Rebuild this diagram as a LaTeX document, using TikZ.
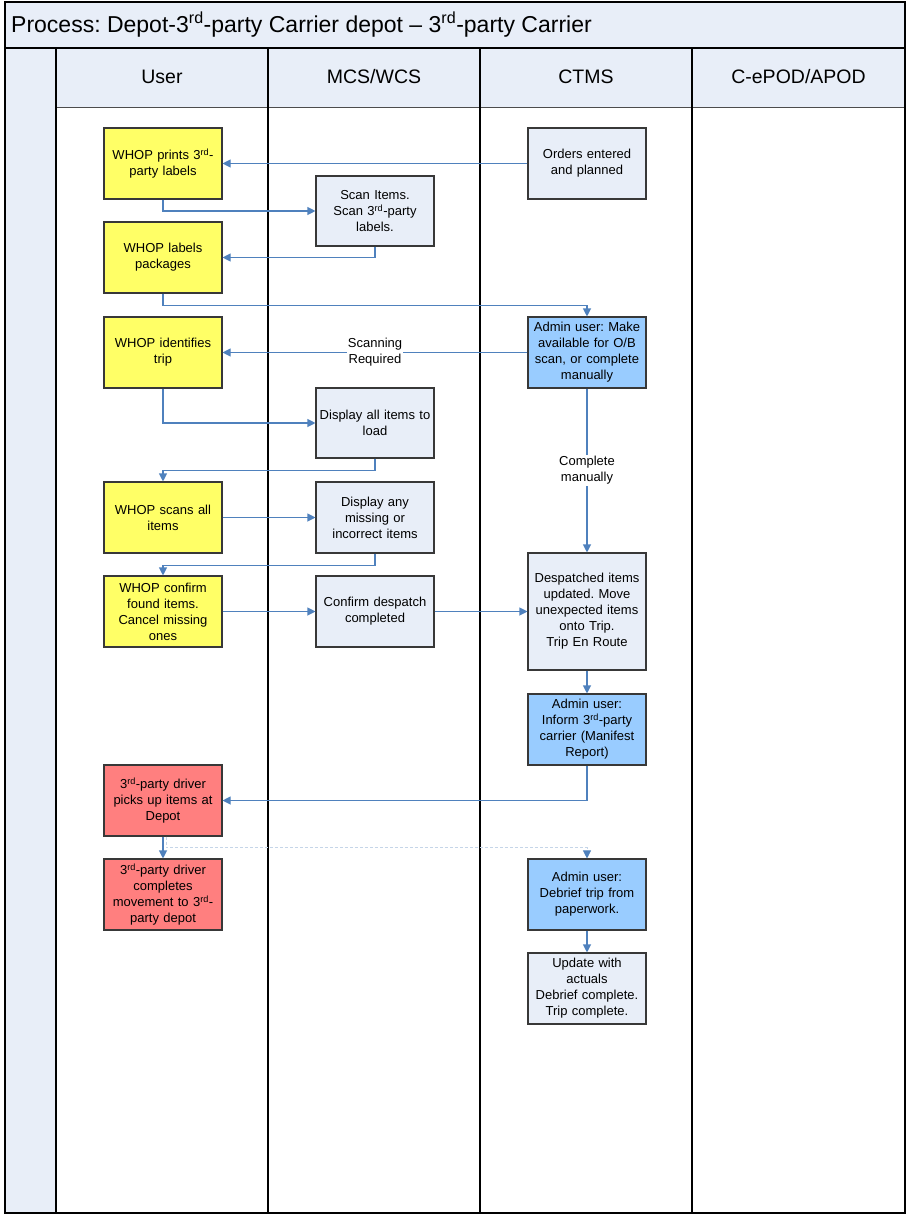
\documentclass[tikz,border=0pt]{standalone}
\usepackage{fontspec}
\setmainfont{Liberation Sans}
\usetikzlibrary{arrows.meta}
\definecolor{hdr}{HTML}{E8EEF8}
\definecolor{boxg}{HTML}{E8EEF8}
\definecolor{yel}{HTML}{FFFF66}
\definecolor{adm}{HTML}{99CCFF}
\definecolor{drv}{HTML}{FF7F7F}
\definecolor{con}{HTML}{4F81BD}
\definecolor{dashc}{HTML}{C5D5E8}
\frenchspacing
\begin{document}
\begin{tikzpicture}[x=1pt,y=-1pt,
  lane/.style={draw=black, line width=1.1pt},
  box/.style={draw=black!78, line width=1.1pt, minimum width=118pt, minimum height=71pt, text width=114pt, align=center, inner sep=2pt, font=\fontsize{13}{16}\selectfont},
  gbox/.style={box, fill=boxg},
  ybox/.style={box, fill=yel},
  abox/.style={box, fill=adm},
  rbox/.style={box, fill=drv},
  conn/.style={draw=con, line width=1.1pt, -{Triangle[width=8pt,length=8pt]}},
  dconn/.style={draw=dashc, line width=0.8pt, dash pattern=on 3pt off 2pt, -{Triangle[width=8pt,length=8pt,color=con]}},
  lbl/.style={fill=white, inner sep=1pt, align=center, font=\fontsize{13}{16}\selectfont},
  hdrtext/.style={font=\fontsize{19.5}{22}\selectfont}
]
\useasboundingbox (0,0) rectangle (906,1215);
% backgrounds
\fill[hdr] (5,2) rectangle (905,48);
\fill[hdr] (5,48) rectangle (56,1213);
\fill[hdr] (56,48) rectangle (905,107);
% lane lines
\draw[line width=0.6pt, black!70] (56,107) -- (905,107);
\draw[lane] (5,48) -- (905,48);
\draw[lane] (56,48) -- (56,1213);
\draw[lane] (268,48) -- (268,1213);
\draw[lane] (480,48) -- (480,1213);
\draw[lane] (692,48) -- (692,1213);
\draw[line width=1.6pt] (5,2) rectangle (905,1213);
% title and headers
\node[anchor=west, font=\fontsize{23}{26}\selectfont, inner sep=0pt] (title) at (11,25) {Process: Depot-3\textsuperscript{rd}-party Carrier depot – 3\textsuperscript{rd}-party Carrier};
\node[hdrtext] (hU) at (162,77) {User};
\node[hdrtext] (hM) at (374,77) {MCS/WCS};
\node[hdrtext] (hC) at (586,77) {CTMS};
\node[hdrtext] (hE) at (798.5,77) {C-ePOD/APOD};
% User lane
\node[ybox] (p1) at (163,163.5) {WHOP prints 3\textsuperscript{rd}-\\party labels};
\node[ybox] (p2) at (163,257.5) {WHOP labels\\packages};
\node[ybox] (p3) at (163,352.5) {WHOP identifies\\trip};
\node[ybox] (p4) at (163,517.5) {WHOP scans all\\items};
\node[ybox] (p5) at (163,611.5) {WHOP confirm\\found items.\\Cancel missing\\ones};
\node[rbox] (p6) at (163,800.5) {3\textsuperscript{rd}-party driver\\picks up items at\\Depot};
\node[rbox] (p7) at (163,894.5) {3\textsuperscript{rd}-party driver\\completes\\movement to 3\textsuperscript{rd}-\\party depot};
% MCS lane
\node[gbox, minimum height=70pt] (m1) at (375,211) {Scan Items.\\Scan 3\textsuperscript{rd}-party\\labels.};
\node[gbox, minimum height=70pt] (m2) at (375,423) {Display all items to\\load};
\node[gbox] (m3) at (375,517.5) {Display any\\missing or\\incorrect items};
\node[gbox] (m4) at (375,611.5) {Confirm despatch\\completed};
% CTMS lane
\node[gbox] (c1) at (587,163.5) {Orders entered\\and planned};
\node[abox] (c2) at (587,352.5) {Admin user: Make\\available for O/B\\scan, or complete\\manually};
\node[gbox, minimum height=117pt] (c3) at (587,611.5) {Despatched items\\updated. Move\\unexpected items\\onto Trip.\\Trip En Route};
\node[abox] (c4) at (587,729.5) {Admin user:\\Inform 3\textsuperscript{rd}-party\\carrier (Manifest\\Report)};
\node[abox] (c5) at (587,894.5) {Admin user:\\Debrief trip from\\paperwork.};
\node[gbox] (c6) at (587,988.5) {Update with\\actuals\\Debrief complete.\\Trip complete.};
% connectors
\draw[conn] (c1.west) -- (p1.east);
\draw[conn] (p1.south) |- (m1.west);
\draw[conn] (m1.south) |- (p2.east);
\draw[conn] (p2.south) -- ++(0,12) -| (c2.north);
\draw[conn] (c2.west) -- node[lbl] {Scanning\\Required} (p3.east);
\draw[conn] (p3.south) |- (m2.west);
\draw[conn] (m2.south) -- ++(0,12) -| (p4.north);
\draw[conn] (p4.east) -- (m3.west);
\draw[conn] (m3.south) -- ++(0,11.5) -| (p5.north);
\draw[conn] (p5.east) -- (m4.west);
\draw[conn] (m4.east) -- (c3.west);
\draw[conn] (c2.south) -- node[lbl] {Complete\\manually} (c3.north);
\draw[conn] (c3.south) -- (c4.north);
\draw[conn] (c4.south) |- (p6.east);
\draw[conn] (p6.south) -- (p7.north);
\draw[dconn] ([xshift=3pt]p6.south) -- ++(0,11) -| (c5.north);
\draw[conn] (c5.south) -- (c6.north);
\end{tikzpicture}
\end{document}
